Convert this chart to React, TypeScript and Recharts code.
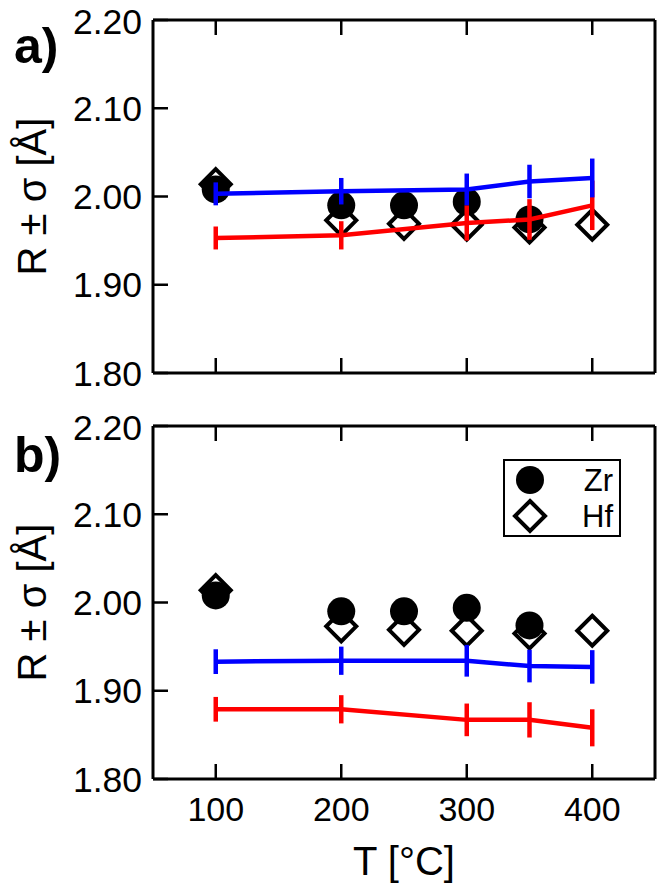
import React from 'react';
import { ComposedChart, Line, Scatter, XAxis, YAxis, ErrorBar, Legend } from 'recharts';

// temperatures [°C]
const temps = [100, 200, 300, 350, 400];

// panel a) lines (R and sigma)
const blueA = [2.003, 2.006, 2.008, 2.017, 2.021];
const blueAErr = [0.013, 0.015, 0.018, 0.019, 0.022];
const redA = [1.953, 1.956, 1.970, 1.974, 1.990];
const redAErr = [0.013, 0.016, 0.020, 0.023, 0.028];

// panel b) lines
const blueB = [1.933, 1.934, 1.934, 1.928, 1.927];
const blueBErr = [0.014, 0.016, 0.018, 0.0185, 0.019];
const redB = [1.879, 1.879, 1.867, 1.867, 1.858];
const redBErr = [0.014, 0.016, 0.0185, 0.020, 0.021];

// reference points, same in both panels
const zrTemps = [100, 200, 250, 300, 350];
const zrValues = [2.008, 1.990, 1.990, 1.994, 1.974];
const hfTemps = [100, 200, 250, 300, 350, 400];
const hfValues = [2.014, 1.973, 1.969, 1.968, 1.965, 1.968];

const xTicks = [100, 200, 300, 400];
const yTicks = [1.8, 1.9, 2.0, 2.1, 2.2];
const legendOrder = ['Zr', 'Hf'];

const FONT = '"Liberation Sans", Arial, Helvetica, sans-serif';
const BLUE = '#0000ff';
const RED = '#ff0000';

const buildRows = (blue: number[], blueErr: number[], red: number[], redErr: number[]) =>
  temps.map((T, i) => ({ T, blue: blue[i], blueErr: blueErr[i], red: red[i], redErr: redErr[i] }));

const zrRows = zrTemps.map((T, i) => ({ T, v: zrValues[i] }));
const hfRows = hfTemps.map((T, i) => ({ T, v: hfValues[i] }));

const Circle = (p: any) => <circle cx={p.cx} cy={p.cy} r={14} fill="#000" />;
const Diamond = (p: any) => {
  const s = 15;
  return (
    <polygon
      points={`${p.cx},${p.cy - s} ${p.cx + s},${p.cy} ${p.cx},${p.cy + s} ${p.cx - s},${p.cy}`}
      fill="none"
      stroke="#000"
      strokeWidth={4}
    />
  );
};

const LegendBox = () => (
  <div style={{ border: '2px solid #000', width: 114, height: 74, background: '#fff' }}>
    <svg width={114} height={74}>
      {legendOrder.map((name, i) => {
        const cy = i === 0 ? 19 : 55;
        return (
          <g key={name}>
            {name === 'Zr' ? <Circle cx={25} cy={cy} /> : <Diamond cx={25} cy={cy} />}
            <text x={108} y={cy + 11} textAnchor="end" fontSize={31} fontFamily={FONT} fill="#000">
              {name}
            </text>
          </g>
        );
      })}
    </svg>
  </div>
);

const axisLine = { stroke: '#000', strokeWidth: 3 };
const tickLine = { stroke: '#000', strokeWidth: 2.5 };
const xTickFont = { fill: '#000', fontSize: 34, fontFamily: FONT };
const yTickFont = { fill: '#000', fontSize: 35.5, fontFamily: FONT };
const blank = () => '';

function Panel({ rows, height, showX, legend }: { rows: any[]; height: number; showX: boolean; legend: boolean }) {
  return (
    <ComposedChart
      width={657}
      height={height}
      data={rows}
      margin={{ top: 19, right: 1, bottom: showX ? 0 : 36, left: 0 }}
    >
      <XAxis
        xAxisId="b"
        dataKey="T"
        type="number"
        domain={[50, 450]}
        ticks={xTicks}
        height={showX ? 104 : 1}
        axisLine={axisLine}
        tickLine={tickLine}
        tickSize={-15}
        tickMargin={33}
        tick={xTickFont}
        tickFormatter={showX ? undefined : blank}
        label={showX ? { value: 'T [°C]', position: 'insideBottom', offset: 8, style: { fontSize: 40, fontFamily: FONT, fill: '#000' } } : undefined}
      />
      <XAxis
        xAxisId="t"
        orientation="top"
        dataKey="T"
        type="number"
        domain={[50, 450]}
        ticks={xTicks}
        height={1}
        axisLine={axisLine}
        tickLine={tickLine}
        tickSize={-15}
        tickFormatter={blank}
      />
      <YAxis
        yAxisId="l"
        type="number"
        domain={[1.8, 2.2]}
        ticks={yTicks}
        width={153}
        axisLine={axisLine}
        tickLine={tickLine}
        tickSize={-15}
        tickMargin={26}
        tick={yTickFont}
        tickFormatter={(v: number) => v.toFixed(2)}
        label={{
          value: 'R ± σ [Å]',
          angle: -90,
          position: 'insideLeft',
          offset: 32,
          style: { textAnchor: 'middle', fontSize: 40, fontFamily: FONT, fill: '#000' },
        }}
      />
      <YAxis
        yAxisId="r"
        orientation="right"
        type="number"
        domain={[1.8, 2.2]}
        ticks={yTicks}
        width={1}
        axisLine={axisLine}
        tickLine={tickLine}
        tickSize={-15}
        tickFormatter={blank}
      />
      <Scatter name="Hf" data={hfRows} dataKey="v" xAxisId="b" yAxisId="l" shape={Diamond} zIndex={340} isAnimationActive={false} />
      <Scatter name="Zr" data={zrRows} dataKey="v" xAxisId="b" yAxisId="l" shape={Circle} zIndex={350} isAnimationActive={false} />
      <Line dataKey="red" xAxisId="b" yAxisId="l" stroke={RED} strokeWidth={4.5} dot={false} legendType="none" zIndex={400} isAnimationActive={false}>
        <ErrorBar dataKey="redErr" width={0} stroke={RED} strokeWidth={4.5} direction="y" zIndex={400} isAnimationActive={false} />
      </Line>
      <Line dataKey="blue" xAxisId="b" yAxisId="l" stroke={BLUE} strokeWidth={4.5} dot={false} legendType="none" zIndex={410} isAnimationActive={false}>
        <ErrorBar dataKey="blueErr" width={0} stroke={BLUE} strokeWidth={4.5} direction="y" zIndex={410} isAnimationActive={false} />
      </Line>
      {legend && (
        <Legend
          layout="vertical"
          align="center"
          verticalAlign="middle"
          content={<LegendBox />}
          wrapperStyle={{ left: 503, top: 53, width: 118, height: 78 }}
        />
      )}
    </ComposedChart>
  );
}

const tagStyle: React.CSSProperties = {
  position: 'absolute',
  left: 14,
  fontFamily: FONT,
  fontWeight: 'bold',
  fontSize: 50,
  lineHeight: 1,
  color: '#000',
};

export default function App() {
  return (
    <div style={{ position: 'absolute', left: 0, top: 0, width: 657, height: 883, background: '#fff', overflow: 'hidden' }}>
      <div style={{ position: 'absolute', left: 0, top: 0 }}>
        <Panel rows={buildRows(blueA, blueAErr, redA, redAErr)} height={410} showX={false} legend={false} />
      </div>
      <div style={{ position: 'absolute', left: 0, top: 406 }}>
        <Panel rows={buildRows(blueB, blueBErr, redB, redBErr)} height={477} showX={true} legend={true} />
      </div>
      <div style={{ ...tagStyle, top: 21 }}>a)</div>
      <div style={{ ...tagStyle, top: 430 }}>b)</div>
    </div>
  );
}
